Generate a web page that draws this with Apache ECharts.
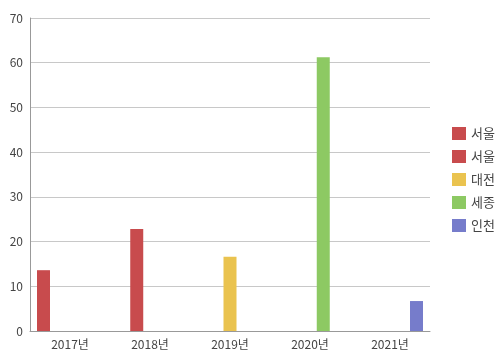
<!DOCTYPE html>
<html><head><meta charset="utf-8">
<script src="https://cdn.jsdelivr.net/npm/echarts@6/dist/echarts.min.js"></script>
<style>html,body{margin:0;padding:0;background:#fff}#c{width:500px;height:353px}</style>
</head><body><div id="c"></div>
<script>
const categories = ['2017년', '2018년', '2019년', '2020년', '2021년'];
const seriesNames = ['서울', '서울 ', '대전', '세종', '인천'];
const seoulA = [13.6, null, null, null, null];
const seoulB = [null, 22.8, null, null, null];
const daejeon = [null, null, 16.6, null, null];
const sejong = [null, null, null, 61.2, null];
const incheon = [null, null, null, null, 6.7];
const yTicks = [0, 10, 20, 30, 40, 50, 60, 70];
const colors = ['#c84b4d', '#c84b4d', '#eac34f', '#8dc963', '#767ccb'];
const values = [seoulA, seoulB, daejeon, sejong, incheon];

const font = '"Noto Sans CJK KR", "Noto Sans", sans-serif';
const chart = echarts.init(document.getElementById('c'));
chart.setOption({
  animation: false,
  color: colors,
  textStyle: { fontFamily: font },
  grid: { left: 30, right: 70, top: 18, bottom: 22, containLabel: false },
  legend: {
    orient: 'vertical', left: 447, top: 122,
    itemWidth: 14, itemHeight: 13, itemGap: 10,
    icon: 'rect',
    textStyle: { fontFamily: font, fontSize: 13, color: '#444' },
    data: seriesNames
  },
  xAxis: {
    type: 'category', data: categories,
    axisLine: { lineStyle: { color: '#999' } },
    axisTick: { show: false },
    axisLabel: { color: '#444', fontSize: 12, fontFamily: font, margin: 7 }
  },
  yAxis: {
    type: 'value', min: yTicks[0], max: yTicks[yTicks.length - 1], interval: 10,
    axisLine: { show: true, lineStyle: { color: '#999' } },
    axisTick: { show: false },
    splitLine: { lineStyle: { color: '#c8c8c8' } },
    axisLabel: { color: '#444', fontSize: 12, fontFamily: font, margin: 7 }
  },
  series: seriesNames.map((n, i) => ({
    name: n, type: 'bar', data: values[i],
    barWidth: 13, barGap: '2%',
    itemStyle: { color: colors[i] }
  }))
});
</script></body></html>
